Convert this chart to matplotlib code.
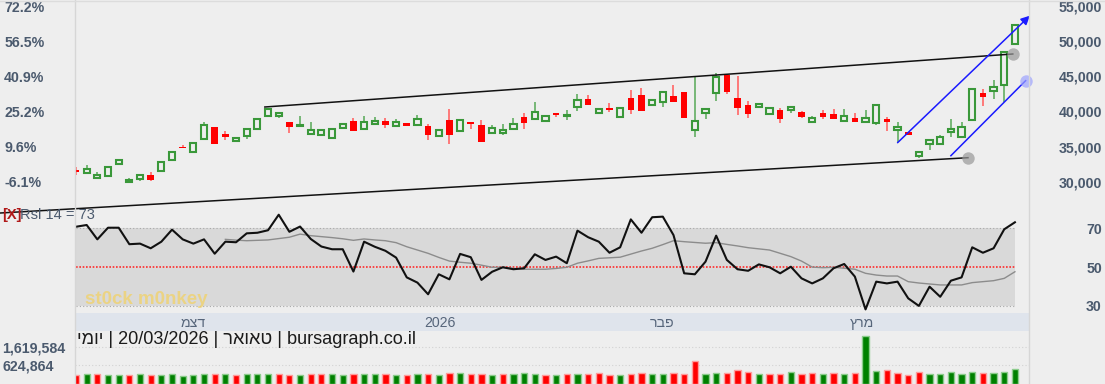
import matplotlib
matplotlib.use("Agg")
import matplotlib.pyplot as plt
from matplotlib.lines import Line2D

plt.rcParams['font.family'] = ['Liberation Sans', 'DejaVu Sans']

# daily candles, 89 sessions ending 20/03/2026
opens = [31660, 31280, 30530, 30810, 32520, 30000, 30430, 30950, 31520, 33090,
         34890, 34220, 36070, 37780, 36790, 35790, 36500, 37500, 39350, 39390,
         38490, 37920, 36830, 36640, 36220, 37680, 38640, 37460, 38250, 38640,
         37970, 38350, 38070, 37920, 36500, 38780, 37260, 38540, 38070, 36970,
         36970, 37500, 39210, 38920, 38640, 39820, 39300, 40670, 41770, 39770,
         40440, 39250, 41910, 42340, 40960, 41340, 42190, 42760, 37310, 39820,
         42660, 45180, 41870, 40870, 40590, 39630, 40200, 40240, 39870, 38490,
         39730, 39630, 38680, 39060, 38490, 38350, 38880, 37360, 37030, 33660,
         35360, 35410, 37070, 36400, 38820, 42580, 42950, 43760, 49640]
highs = [32050, 32370, 31420, 32200, 33230, 30570, 30990, 31380, 32800, 34270,
         35180, 35550, 38490, 37780, 37170, 36260, 37450, 38960, 40390, 39730,
         38490, 39350, 38490, 37310, 37500, 38210, 39060, 39350, 39160, 39060,
         38960, 38350, 39490, 38250, 37310, 40340, 38740, 38540, 38740, 38020,
         38210, 39020, 39770, 41340, 39390, 39820, 40200, 42520, 42380, 40390,
         41200, 40530, 43050, 43290, 41670, 42810, 43720, 42760, 44850, 40340,
         45420, 45180, 45040, 41440, 41010, 40440, 40440, 40630, 40010, 39390,
         40200, 40390, 40390, 39770, 40200, 40910, 39250, 38490, 37030, 34270,
         35980, 36640, 38960, 38450, 43230, 43190, 44470, 48500, 52300]
lows = [30990, 31280, 30530, 30810, 32330, 30000, 30140, 30140, 31520, 33090,
        34750, 34220, 36070, 35320, 35930, 35790, 36030, 37500, 39350, 39060,
        36970, 37920, 36830, 36640, 36220, 37680, 37260, 37460, 38250, 37680,
        37970, 37880, 38070, 35980, 36500, 35410, 37070, 37460, 35690, 36970,
        36600, 37500, 37460, 38920, 38640, 39160, 38740, 40100, 40960, 39770,
        39960, 39250, 39630, 40060, 40960, 40670, 41380, 39110, 36400, 38960,
        41520, 42520, 39490, 39110, 40590, 39630, 38390, 39730, 39020, 38490,
        38920, 38880, 38680, 38450, 38490, 38020, 37170, 35690, 36600, 33370,
        34550, 35410, 36320, 36400, 38820, 40810, 41810, 41380, 49640]
closes = [31340, 31760, 30990, 32130, 33040, 30280, 30990, 30240, 32800, 34180,
          34750, 35550, 38020, 35320, 36300, 36260, 37450, 38960, 40390, 39730,
          37740, 38110, 37310, 37290, 37500, 38210, 37260, 38540, 38590, 38020,
          38490, 37880, 38960, 36640, 37310, 36690, 38740, 38170, 35690, 37680,
          37400, 38250, 38310, 39960, 39390, 39450, 39420, 41670, 40960, 40390,
          40200, 40530, 40240, 40060, 41670, 42810, 41380, 39110, 38680, 40340,
          44940, 42760, 40530, 39670, 41010, 40440, 38880, 40630, 39160, 39100,
          39150, 38880, 39390, 38450, 39110, 40910, 38450, 37830, 36600, 34270,
          35980, 36320, 37460, 37740, 43230, 42010, 43430, 48500, 52300]
volumes = [70000, 125000, 130000, 74000, 69000, 72000, 128000, 71000, 75000, 126000,
           17000, 73000, 131000, 127000, 124000, 70000, 129000, 126000, 128000, 130000,
           72000, 74000, 127000, 125000, 129000, 71000, 128000, 126000, 130000, 127000,
           73000, 70000, 128000, 126000, 72000, 199000, 196000, 127000, 129000, 71000,
           128000, 125000, 201000, 127000, 73000, 72000, 144000, 146000, 142000, 183000,
           71000, 74000, 144000, 181000, 145000, 143000, 184000, 144000, 846000, 142000,
           182000, 185000, 349000, 238000, 145000, 143000, 144000, 236000, 146000, 182000,
           144000, 184000, 143000, 181000, 2227000, 293000, 349000, 183000, 72000, 238000,
           144000, 145000, 239000, 143000, 237000, 183000, 184000, 238000, 404000]
rsi = [70.8, 71.7, 64.3, 70.3, 70.3, 61.8, 62.1, 59.7, 63.1, 69.3,
       64.3, 62.1, 64.3, 56.9, 63.1, 62.8, 67.4, 67.7, 69.0, 77.0,
       68.2, 70.9, 64.5, 60.6, 59.2, 59.2, 47.7, 63.1, 60.5, 58.4,
       54.9, 44.7, 42.0, 36.0, 46.3, 43.7, 56.8, 55.1, 43.4, 47.6,
       49.9, 48.9, 49.4, 56.6, 53.7, 55.4, 52.0, 68.8, 65.4, 63.1,
       57.4, 60.2, 74.6, 67.7, 75.7, 76.0, 66.5, 46.8, 46.3, 52.8,
       66.2, 53.7, 48.9, 48.1, 51.4, 49.9, 46.8, 50.2, 44.2, 41.6,
       44.2, 49.4, 51.6, 45.1, 28.2, 42.5, 41.6, 42.5, 33.9, 30.0,
       39.9, 34.7, 43.0, 44.7, 60.2, 57.4, 59.7, 69.5, 73.1]
# RSI moving average, starts at session 14
rsi_ma = [64.3, 63.9, 63.6, 63.8, 64.0, 64.7, 65.4, 67.0, 66.2, 65.7,
          65.2, 64.6, 63.8, 64.5, 64.0, 63.6, 62.6, 60.5, 58.8, 57.1,
          55.0, 53.1, 52.5, 52.0, 51.0, 49.9, 49.9, 49.3, 48.9, 48.9,
          48.9, 49.3, 49.9, 52.0, 53.2, 54.5, 54.8, 55.1, 56.7, 58.3,
          59.7, 61.6, 63.6, 63.1, 62.7, 62.3, 62.6, 61.7, 60.9, 60.0,
          59.4, 58.8, 57.1, 55.4, 53.1, 50.0, 49.7, 49.9, 49.4, 48.9,
          46.8, 45.9, 45.4, 45.4, 42.5, 41.8, 41.3, 40.8, 40.8, 40.8,
          42.0, 42.5, 43.0, 44.2, 47.6]
ma_start = 14

base_price = 31940          # reference close for the % scale
price_ticks = [30000, 35000, 40000, 45000, 50000, 55000]
rsi_ticks = [30, 50, 70]
vol_ticks = [624864, 1619584]

month_labels = ['דצמ', '2026', 'פבר', 'מרץ']
month_pos = [11.0, 34.1, 54.9, 73.7]

# trend lines drawn on the chart: (session index, price)
upper_channel = ([17.7, 87.8], [40628, 48170])
lower_channel = ([-7.1, 83.6], [25544, 33413])
blue_up = ([77.0, 89.4], [35548, 53620])
blue_low = ([82.0, 89.0], [33700, 44370])


def rtl(s):
    # matplotlib has no bidi: flip Hebrew words to visual order
    if any('\u0590' <= ch <= '\u05ff' for ch in s):
        return s[::-1]
    return s


W, H = 1105, 384
BG = '#eeeeee'
SLATE = '#4b5a6e'
GREEN = '#3a983a'
GREEN_W = '#6db36d'
RED = '#ff0000'
RED_W = '#ff7070'


def box(x0, y0, x1, y1):
    return [x0 / W, 1 - y1 / H, (x1 - x0) / W, (y1 - y0) / H]


fig = plt.figure(figsize=(W / 100, H / 100), dpi=100, facecolor=BG)
x = list(range(len(closes)))
xlim = (-0.094, 89.32)

# ---- price panel
ax = fig.add_axes(box(75, 0, 1029, 208))
ax.set_facecolor('none')
ax.set_xlim(*xlim)
ax.set_ylim(26256, 55854)

for i in x:
    o, h, l, c = opens[i], highs[i], lows[i], closes[i]
    up = c >= o
    ax.vlines(i, l, h, color=GREEN_W if up else RED_W, lw=1.3, zorder=2)
    lo, hgt = min(o, c), max(abs(c - o), 200)
    if up:
        ax.bar(i, hgt, bottom=lo, width=0.58, facecolor=BG, edgecolor=GREEN,
               linewidth=1.5, zorder=3)
    else:
        ax.bar(i, hgt, bottom=lo, width=0.62, color=RED, linewidth=0, zorder=3)

ax.plot(*upper_channel, color='#111111', lw=1.1, zorder=4)
ax.plot(*lower_channel, color='#111111', lw=1.1, zorder=4, clip_on=False)
ax.plot(*blue_low, color='#1a1aff', lw=1.1, zorder=4)
ax.annotate('', xy=(blue_up[0][1], blue_up[1][1]), xytext=(blue_up[0][0], blue_up[1][0]),
            arrowprops=dict(arrowstyle='-|>', color='#1a1aff', lw=1.1,
                            mutation_scale=13, shrinkA=0, shrinkB=0),
            annotation_clip=False, zorder=4)
ax.scatter([upper_channel[0][1], lower_channel[0][1]],
           [upper_channel[1][1], lower_channel[1][1]],
           s=80, color='#999999', alpha=0.7, zorder=5, linewidths=0)
ax.scatter([blue_low[0][1]], [blue_low[1][1]], s=80, color='#9da3ff', alpha=0.7,
           zorder=5, linewidths=0, clip_on=False)

ax.set_xticks([])
ax.yaxis.tick_right()
ax.set_yticks(price_ticks)
ax.set_yticklabels([f'{p:,}' for p in price_ticks])
ax.tick_params(axis='y', length=0, pad=52.5, labelsize=10.2, labelcolor=SLATE)
for t in ax.get_yticklabels():
    t.set_ha('right')
    t.set_fontweight('bold')

sec = ax.secondary_yaxis('left', functions=(lambda p: (p / base_price - 1) * 100,
                                            lambda q: base_price * (1 + q / 100)))
pct = [(p / base_price - 1) * 100 for p in price_ticks]
sec.set_yticks(pct)
sec.set_yticklabels([f'{q:.1f}%' for q in pct])
sec.tick_params(axis='y', length=0, pad=51, labelsize=10.2, labelcolor=SLATE)
for t in sec.get_yticklabels():
    t.set_ha('left')
    t.set_fontweight('bold')
for a in (ax, sec):
    for s in a.spines.values():
        s.set_visible(False)

# ---- RSI panel
ar = fig.add_axes(box(75, 208, 1029, 312))
ar.set_facecolor('none')
ar.set_xlim(*xlim)
ar.set_ylim(26.86, 80.46)
ar.fill_between([0, x[-1]], 30, 70, color='#d9d9d9', lw=0, zorder=1)
ar.hlines([30, 70], 0, x[-1], colors='#a8a8a8', lw=0.8, linestyles=(0, (1, 2)), zorder=2)
ar.hlines(50, 0, x[-1], colors='#ff2a2a', lw=1.2, linestyles=(0, (1, 1)), zorder=2)
ar.plot(list(range(ma_start, ma_start + len(rsi_ma))), rsi_ma, color='#8c8c8c', lw=1.0, zorder=3)
ar.plot(x, rsi, color='#111111', lw=1.5, zorder=4)
ar.set_xticks([])
ar.yaxis.tick_right()
ar.set_yticks(rsi_ticks)
ar.set_yticklabels([str(v) for v in rsi_ticks])
ar.tick_params(axis='y', length=0, pad=52.5, labelsize=10.2, labelcolor=SLATE)
for t in ar.get_yticklabels():
    t.set_ha('right')
    t.set_fontweight('bold')
for s in ar.spines.values():
    s.set_visible(False)

# ---- time band
at = fig.add_axes(box(75, 313, 1029, 331))
at.set_facecolor('#dfe4ec')
at.set_xlim(*xlim)
at.set_ylim(0, 1)
for lab, pos in zip(month_labels, month_pos):
    at.text(pos, 0.45, rtl(lab), ha='center', va='center', fontsize=10.2, color='#56657a')
at.set_xticks([])
at.set_yticks([])
for s in at.spines.values():
    s.set_visible(False)

# ---- volume panel
av = fig.add_axes(box(75, 332, 1029, 384))
av.set_facecolor('none')
av.set_xlim(*xlim)
vmin, vmax = -408536, 2465089
av.set_ylim(vmin, vmax)
for tv in vol_ticks:
    av.axhline(tv, color='#d2d2d2', lw=0.8, ls=(0, (1, 2)), zorder=1)
vcol = [GREEN if i == 0 or closes[i] >= closes[i - 1] else RED for i in x]
vcol[0] = RED
for i in x:
    up = vcol[i] == GREEN
    av.bar(i, volumes[i] - vmin, bottom=vmin, width=0.58,
           facecolor='#008000' if up else RED,
           edgecolor='#8ccc8c' if up else '#ff9c9c', linewidth=1.0, zorder=2)
av.set_xticks([])
av.set_yticks(vol_ticks)
av.set_yticklabels([f'{v:,}' for v in vol_ticks])
av.tick_params(axis='y', length=0, pad=52.5, labelsize=10.2, labelcolor=SLATE)
for t in av.get_yticklabels():
    t.set_ha('left')
    t.set_fontweight('bold')
for s in av.spines.values():
    s.set_visible(False)

# frame lines
for px in (75, 1029):
    fig.add_artist(Line2D([px / W, px / W], [0, 1], color='#d6d6d6', lw=1.0))
fig.add_artist(Line2D([0, 1], [1 - 1 / H, 1 - 1 / H], color='#dcdcdc', lw=1.0))

# texts
fig.text(2 / W, 1 - 215 / H, '[X]', fontsize=10.5, fontweight='bold', color='#b01818', va='center')
fig.text(20 / W, 1 - 215 / H, f'Rsl 14 = {rsi[-1]:.0f}', fontsize=10.5, color=SLATE, va='center')
fig.text(85 / W, 1 - 300 / H, 'st0ck m0nkey', fontsize=13.5, fontweight='bold',
         color='#f0d26e', alpha=0.8, va='center')
fig.text(77 / W, 1 - 340 / H,
         f"{rtl('יומי')} | 20/03/2026 | {rtl('טאואר')} | bursagraph.co.il",
         fontsize=13.1, color='#1b1b1b', va='center')

fig.savefig('out.png', dpi=100, facecolor=BG)
